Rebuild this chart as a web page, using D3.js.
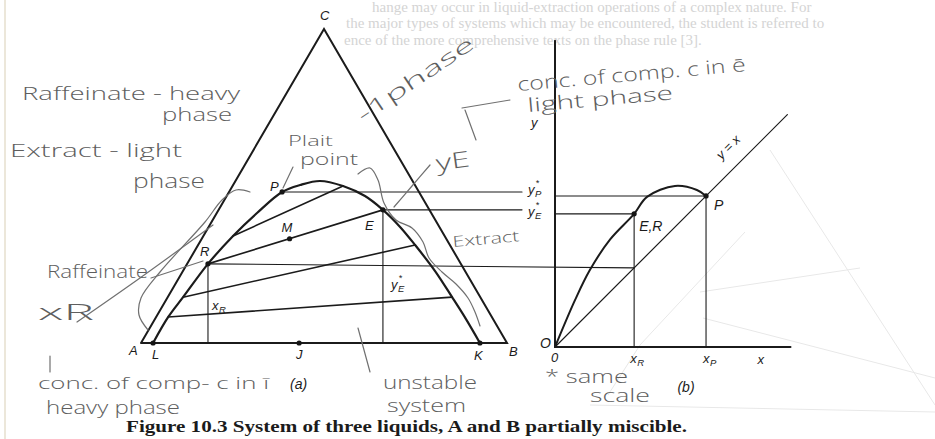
<!DOCTYPE html>
<html>
<head>
<meta charset="utf-8">
<script src="https://cdn.jsdelivr.net/npm/d3@7"></script>
<style>
  body { margin: 0; background: #fff; }
  svg { display: block; }
  .ink { stroke: #1b1b1b; fill: none; stroke-linecap: round; }
  .lbl { font-family: "Liberation Sans", Arial, sans-serif; font-style: italic; fill: #1b1b1b; }
  .hand { font-family: "Open Sans", "DejaVu Sans", sans-serif; font-weight: 300; fill: #5e5e5e; }
  .pencil { stroke: #707070; fill: none; stroke-width: 1.2; stroke-linecap: round; stroke-linejoin: round; }
  .ghost { font-family: "Liberation Serif", serif; fill: #d4d4d4; font-size: 15px; }
</style>
</head>
<body>
<svg id="fig" width="935" height="439"></svg>
<script>
// ---- Ternary system A-B-C: binodal (solubility) curve, mass fractions of B and C ----
const binodalB = [0.033, 0.033, 0.042, 0.057, 0.081, 0.110, 0.145, 0.183, 0.231, 0.302, 0.378, 0.449, 0.524, 0.593, 0.689, 0.777, 0.850, 0.926];
const binodalC = [0.000, 0.083, 0.146, 0.252, 0.341, 0.414, 0.481, 0.503, 0.516, 0.500, 0.468, 0.424, 0.369, 0.312, 0.229, 0.146, 0.076, 0.000];

// Tie lines: raffinate end (heavy phase) and extract end (light phase)
const tieRaffB = [0.033, 0.042, 0.057, 0.081];
const tieRaffC = [0.083, 0.146, 0.252, 0.341];
const tieExtB  = [0.777, 0.593, 0.449, 0.302];
const tieExtC  = [0.146, 0.312, 0.424, 0.500];

// Named points (x_B, x_C)
const pointNames = ["L", "J", "K", "R", "M", "E", "P"];
const pointB = [0.033, 0.432, 0.926, 0.057, 0.240, 0.449, 0.145];
const pointC = [0.000, 0.000, 0.000, 0.252, 0.332, 0.424, 0.481];

// Distribution curve (b): C in raffinate (x) vs C in extract (y)
const distX = [0, 0.064, 0.111, 0.175, 0.252, 0.293, 0.382, 0.452, 0.481];
const distY = [0, 0.150, 0.245, 0.342, 0.424, 0.478, 0.513, 0.500, 0.481];
const xR = 0.252, yE = 0.424, xP = 0.481, yP = 0.481;

const svg = d3.select("#fig");

// ---- scales ----
const tx = d3.scaleLinear().domain([0, 1]).range([141, 507]);   // horizontal position in triangle
const ty = d3.scaleLinear().domain([0, 1]).range([343, 29]);    // height = fraction of C
const proj = (b, c) => [tx(b + c / 2), ty(c)];

const rx = d3.scaleLinear().domain([0, 1]).range([555, 869]);
const ry = d3.scaleLinear().domain([0, 1]).range([347, 33]);

const P = name => { const i = pointNames.indexOf(name); return proj(pointB[i], pointC[i]); };

// ---- faint show-through of the printed page ----
const ghost = svg.append("g");
[
  [372, 12, "hange may occur in liquid-extraction operations of a complex nature. For"],
  [346, 28, "the major types of systems which may be encountered, the student is referred to"],
  [344, 45, "ence of the more comprehensive texts on the phase rule [3]."]
].forEach(([x, y, s]) => ghost.append("text").attr("class", "ghost").attr("x", x).attr("y", y).text(s));
const ghostLines = [
  [[770, 150], [935, 405]], [[745, 232], [640, 345], [608, 395]], [[703, 318], [935, 378]],
  [[590, 405], [935, 412]], [[860, 268], [700, 292]]
];
ghostLines.forEach(pts => svg.append("path").attr("d", d3.line()(pts))
  .attr("stroke", "#e8e8e8").attr("stroke-width", 1).attr("fill", "none"));
svg.append("line").attr("x1", 5).attr("x2", 5).attr("y1", 0).attr("y2", 439)
  .attr("stroke", "#ece7da").attr("stroke-width", 2);

// ---- (a) triangular diagram ----
const g = svg.append("g");
const tri = [proj(0, 0), proj(1, 0), proj(0, 1), proj(0, 0)];
g.append("path").attr("class", "ink").attr("stroke-width", 2).attr("stroke-linejoin", "miter")
  .attr("d", d3.line()(tri));

// binodal curve
g.append("path").attr("class", "ink").attr("stroke-width", 2.2)
  .attr("d", d3.line().curve(d3.curveCatmullRom.alpha(0.5))(binodalB.map((b, i) => proj(b, binodalC[i]))));

// tie lines
tieRaffB.forEach((b, i) => {
  g.append("path").attr("class", "ink").attr("stroke-width", 1.6)
    .attr("d", d3.line()([proj(b, tieRaffC[i]), proj(tieExtB[i], tieExtC[i])]));
});

// verticals from R and E down to AB
["R", "E"].forEach(n => {
  const [x, y] = P(n);
  g.append("line").attr("class", "ink").attr("stroke-width", 1.1)
    .attr("x1", x).attr("x2", x).attr("y1", y).attr("y2", ty(0));
});

// horizontal guides carried to diagram (b)
const guideEnd = rx(0) - 33;
["P", "E"].forEach(n => {
  const [x, y] = P(n);
  g.append("line").attr("class", "ink").attr("stroke-width", 1.1)
    .attr("x1", x).attr("x2", guideEnd).attr("y1", y).attr("y2", y);
});
{
  const [x, y] = P("R");
  g.append("line").attr("class", "ink").attr("stroke-width", 1.1)
    .attr("x1", x).attr("y1", y).attr("x2", rx(xR)).attr("y2", ry(xR));
}

// points
pointNames.forEach(n => {
  const [x, y] = P(n);
  g.append("circle").attr("cx", x).attr("cy", y).attr("r", 2.6).attr("fill", "#151515");
});

// printed labels
const lbl = (x, y, s, size = 13) => svg.append("text").attr("class", "lbl")
  .attr("x", x).attr("y", y).attr("font-size", size).text(s);
// symbol with subscript and optional star, each as its own text
const sym = (x, y, main, subs, star) => {
  lbl(x, y, main, 13);
  lbl(x + 7, y + 3, subs, 9.5);
  if (star) lbl(x + 7.5, y - 8, "*", 9).attr("font-style", "normal");
};
{
  const [cx, cy] = proj(0, 1);
  lbl(cx - 4, cy - 9, "C");
  const [ax, ay] = proj(0, 0);
  lbl(ax - 12, ay + 12, "A");
  const [bx, by] = proj(1, 0);
  lbl(bx + 2, by + 13, "B");
  let p = P("L"); lbl(p[0] - 1, p[1] + 16, "L");
  p = P("J"); lbl(p[0] - 3, p[1] + 16, "J");
  p = P("K"); lbl(p[0] - 6, p[1] + 17, "K");
  p = P("P"); lbl(p[0] - 12, p[1] - 1, "P");
  p = P("M"); lbl(p[0] - 8, p[1] - 7, "M");
  p = P("E"); lbl(p[0] - 18, p[1] + 20, "E");
  p = P("R"); lbl(p[0] - 8, p[1] - 8, "R");
  p = P("R"); sym(p[0] + 4, ty(0) - 33, "x", "R", false);
  p = P("E"); sym(p[0] + 8, ty(0) - 54, "y", "E", true);
  lbl(290, 389, "(a)", 14).attr("font-style", "normal");
}

// ---- (b) distribution diagram ----
const b = svg.append("g");
b.append("line").attr("class", "ink").attr("stroke-width", 2)
  .attr("x1", rx(0)).attr("x2", rx(0)).attr("y1", ry(0)).attr("y2", ry(0.975));
b.append("line").attr("class", "ink").attr("stroke-width", 2)
  .attr("x1", rx(0)).attr("x2", rx(0.75)).attr("y1", ry(0)).attr("y2", ry(0));
// y = x
b.append("line").attr("class", "ink").attr("stroke-width", 1.2)
  .attr("x1", rx(0)).attr("y1", ry(0)).attr("x2", rx(0.74)).attr("y2", ry(0.74));
// construction lines
b.append("line").attr("class", "ink").attr("stroke-width", 1.1)
  .attr("x1", rx(0)).attr("x2", rx(xP)).attr("y1", ry(yP)).attr("y2", ry(yP));
b.append("line").attr("class", "ink").attr("stroke-width", 1.1)
  .attr("x1", rx(0)).attr("x2", rx(xR)).attr("y1", ry(yE)).attr("y2", ry(yE));
b.append("line").attr("class", "ink").attr("stroke-width", 1.1)
  .attr("x1", rx(xR)).attr("x2", rx(xR)).attr("y1", ry(0)).attr("y2", ry(yE));
b.append("line").attr("class", "ink").attr("stroke-width", 1.1)
  .attr("x1", rx(xP)).attr("x2", rx(xP)).attr("y1", ry(0)).attr("y2", ry(yP));
// distribution curve
b.append("path").attr("class", "ink").attr("stroke-width", 2)
  .attr("d", d3.line().curve(d3.curveCatmullRom.alpha(0.5))(distX.map((x, i) => [rx(x), ry(distY[i])])));
[[xR, yE], [xP, yP]].forEach(([x, y]) =>
  b.append("circle").attr("cx", rx(x)).attr("cy", ry(y)).attr("r", 2.6).attr("fill", "#151515"));

// labels of (b)
lbl(rx(0) - 24, ry(0.7), "y");
sym(guideEnd + 6, ty(yP) + 2, "y", "P", true);
sym(guideEnd + 6, ty(yE) + 6, "y", "E", true);
lbl(rx(0) - 15, ry(0) + 1, "O", 14).attr("font-style", "normal");
lbl(rx(0) - 4, ry(0) + 15, "0", 13).attr("font-style", "normal");
sym(rx(xR) - 4, ry(0) + 16, "x", "R", false);
sym(rx(xP) - 3, ry(0) + 16, "x", "P", false);
lbl(rx(0.645), ry(0) + 17, "x");
lbl(rx(0.39), ry(0) + 45, "(b)", 14).attr("font-style", "normal");
lbl(rx(xR) + 5, ry(yE) + 17, "E,R", 14);
lbl(rx(xP) + 8, ry(yP) + 14, "P", 14);
svg.append("text").attr("class", "lbl").attr("font-size", 13)
  .attr("transform", `translate(${rx(0.53)},${ry(0.595)}) rotate(-45)`).text("y = x");

// caption
svg.append("text").attr("x", 126).attr("y", 432)
  .attr("font-family", "Liberation Serif, serif").attr("font-weight", "bold").attr("font-size", 16)
  .attr("fill", "#1b1b1b").attr("textLength", 561).attr("lengthAdjust", "spacingAndGlyphs")
  .text("Figure 10.3 System of three liquids, A and B partially miscible.");

// ---- pencil notes ----
const hand = (s, x, y, len, size, rot = 0) => {
  const t = svg.append("text").attr("class", "hand").attr("x", x).attr("y", y)
    .attr("font-size", size).attr("textLength", len).attr("lengthAdjust", "spacingAndGlyphs").text(s);
  if (rot) t.attr("transform", `rotate(${rot},${x},${y})`);
  return t;
};
hand("Raffeinate - heavy", 22, 100, 218, 19);
hand("phase", 162, 121, 70, 19);
hand("Extract - light", 10, 157, 172, 19);
hand("phase", 133, 188, 72, 20);
hand("Plait", 288, 146, 45, 14);
hand("point", 300, 165, 58, 17);
hand("-1phase", 363, 123, 136, 20, -34);
hand("yE", 437, 171, 34, 22, -8);
hand("Extract", 453, 247, 67, 15, -5);
hand("conc. of comp. c in ē", 518, 91, 229, 19, -5);
hand("light phase", 528, 112, 146, 19, -5);
hand("Raffeinate", 47, 278, 101, 18);
hand("xR", 38, 320, 56, 22);
hand("conc. of comp- c in ī", 38, 389, 231, 17);
hand("heavy phase", 46, 414, 134, 18);
hand("unstable", 383, 389, 94, 18);
hand("system", 387, 412, 79, 19);
hand("* same", 545, 383, 83, 18);
hand("scale", 590, 402, 60, 19);

const pencil = pts => svg.append("path").attr("class", "pencil")
  .attr("d", d3.line().curve(d3.curveCatmullRom)(pts));
pencil([[293, 167], [283, 188]]);                                        // to plait point
pencil([[430, 165], [412, 186], [394, 207]]);                            // to y_E
pencil([[462, 108], [510, 100]]);                                        // bracket
pencil([[465, 110], [476, 140]]);
pencil([[358, 174], [370, 168], [378, 180], [384, 203], [396, 220], [412, 228],
        [423, 242], [429, 258], [442, 272], [456, 284], [468, 298], [475, 312], [480, 326]]); // extract boundary
pencil([[151, 278], [203, 261]]);                                        // raffinate arrow
pencil([[77, 322], [140, 278], [213, 225]]);                             // from x_R note
pencil([[250, 192], [236, 190], [222, 200], [205, 222], [160, 272], [141, 298], [139, 315], [148, 330]]);
pencil([[50, 356], [50, 372]]);
pencil([[358, 328], [370, 372]]);                                        // unstable system
</script>
</body>
</html>
